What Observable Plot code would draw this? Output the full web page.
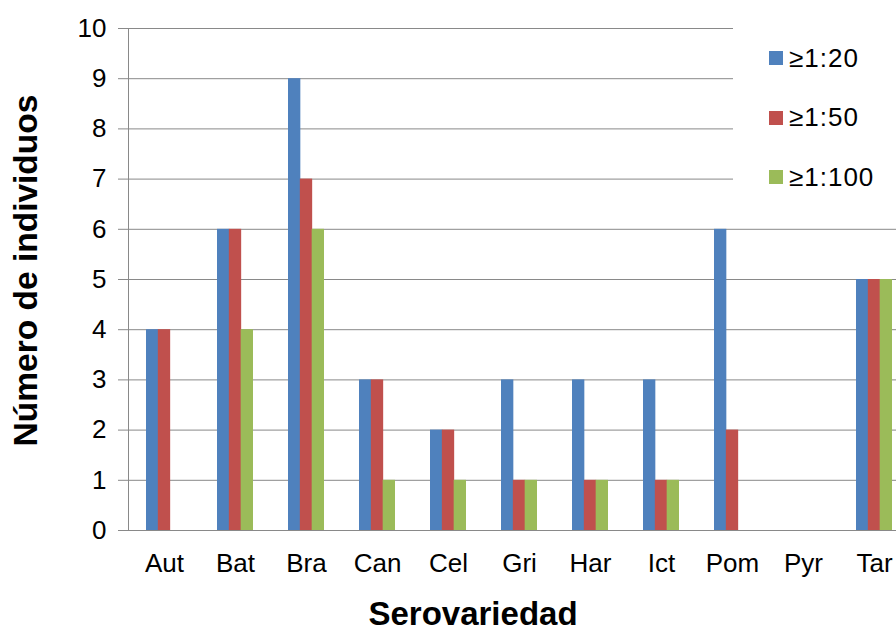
<!DOCTYPE html>
<html>
<head>
<meta charset="utf-8">
<script src="https://cdn.jsdelivr.net/npm/d3@7"></script>
<script src="https://cdn.jsdelivr.net/npm/@observablehq/plot@0.6"></script>
<style>
  html, body { margin: 0; padding: 0; background: #fff; overflow: hidden; }
  #chart { position: relative; width: 896px; height: 631px; font-family: "Liberation Sans", Arial, sans-serif; }
  #chart svg { display: block; }
  .legend { position: absolute; left: 733px; top: 8px; width: 163px; height: 200px; background: #fff; }
  .legend .item { position: absolute; left: 36px; height: 30px; display: flex; align-items: center; font-size: 26px; letter-spacing: 1px; color: #000; white-space: nowrap; }
  .legend .sw { width: 14px; height: 14px; margin-right: 6px; flex: none; }
</style>
</head>
<body>
<div id="chart"></div>
<script>
// Serovariedades (eje X)
const categories = ["Aut", "Bat", "Bra", "Can", "Cel", "Gri", "Har", "Ict", "Pom", "Pyr", "Tar"];
// Títulos de corte
const series = ["≥1:20", "≥1:50", "≥1:100"];
// Número de individuos por título
const titer20  = [4, 6, 9, 3, 2, 3, 3, 3, 6, 0, 5];
const titer50  = [4, 6, 7, 3, 2, 1, 1, 1, 2, 0, 5];
const titer100 = [0, 4, 6, 1, 1, 1, 1, 1, 0, 0, 5];
// Marcas del eje Y
const yTicks = [0, 1, 2, 3, 4, 5, 6, 7, 8, 9, 10];

const colors = ["#4F81BD", "#C0504D", "#9BBB59"];
const seriesValues = [titer20, titer50, titer100];

// Plot area spans past the right edge of the picture (11 bands of 71px from x=128)
const xRange = [128, 909];
const paddingInner = 0.5, paddingOuter = 0.25;
const step = (xRange[1] - xRange[0]) / (categories.length - paddingInner + 2 * paddingOuter);
const bandwidth = step * (1 - paddingInner);
const barW = bandwidth / series.length;

const grey = "#898989";

const barMarks = seriesValues.map((vals, k) =>
  Plot.barY(categories.map((c, i) => ({cat: c, value: vals[i]})), {
    x: "cat",
    y: "value",
    fill: colors[k],
    insetLeft: k * barW,
    insetRight: (series.length - 1 - k) * barW
  })
);

const chart = Plot.plot({
  width: 896,
  height: 631,
  marginLeft: 128,
  marginRight: 0,
  marginTop: 28,
  marginBottom: 101,
  style: {fontFamily: "'Liberation Sans', Arial, sans-serif", background: "#fff", color: "#000"},
  x: {domain: categories, range: xRange, paddingInner, paddingOuter, align: 0.5, axis: null},
  y: {domain: [0, 10], axis: null},
  marks: [
    Plot.ruleY(yTicks, {stroke: grey, strokeWidth: 1}),
    Plot.frame({anchor: "left", stroke: grey}),
    ...barMarks,
    Plot.axisY(yTicks, {tickSize: 10, tickPadding: 12, fontSize: 26, stroke: grey, fill: "#000", label: null, tickFormat: d => String(d)}),
    Plot.axisX({tickSize: 0, tickPadding: 23, fontSize: 26, fill: "#000", label: null}),
    Plot.text(["Número de individuos"], {
      frameAnchor: "left", textAnchor: "middle", rotate: -90, dx: -102, dy: -9,
      lineAnchor: "middle", fontSize: 33.5, fontWeight: "bold", fill: "#000"
    }),
    Plot.text(["Serovariedad"], {
      frameAnchor: "bottom", textAnchor: "middle", dx: -39.5, dy: 94,
      lineAnchor: "bottom", fontSize: 33, fontWeight: "bold", fill: "#000"
    })
  ]
});

const root = document.getElementById("chart");
root.appendChild(chart);

// Legend box (white background hides the gridlines behind it)
const legend = document.createElement("div");
legend.className = "legend";
const itemCenters = [50, 109.5, 169];
series.forEach((s, k) => {
  const item = document.createElement("div");
  item.className = "item";
  item.style.top = (itemCenters[k] - 15) + "px";
  const sw = document.createElement("span");
  sw.className = "sw";
  sw.style.background = colors[k];
  const label = document.createElement("span");
  label.textContent = s;
  item.appendChild(sw);
  item.appendChild(label);
  legend.appendChild(item);
});
root.appendChild(legend);
</script>
</body>
</html>
